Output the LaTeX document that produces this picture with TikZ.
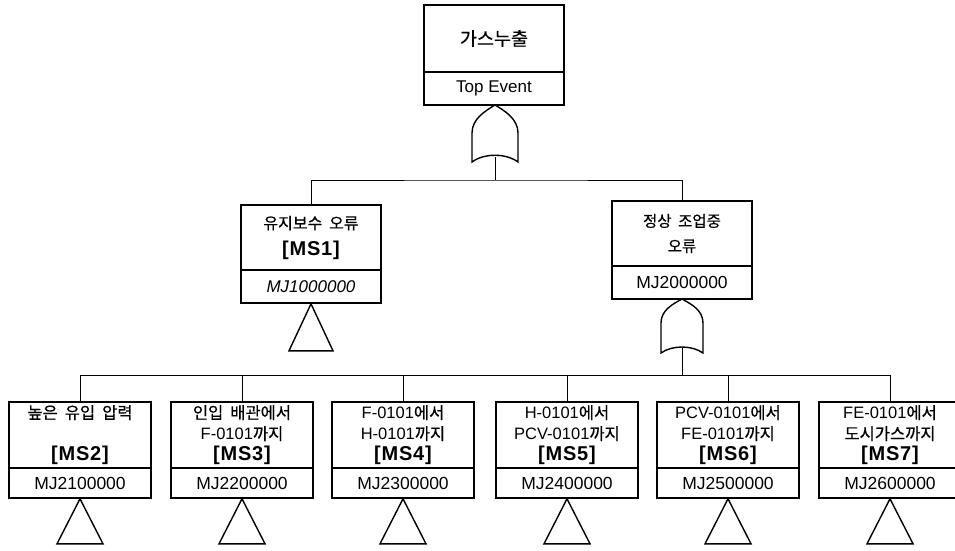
\documentclass[tikz,border=0pt]{standalone}
\usepackage{fontspec}
\setmainfont{Liberation Sans}
\newfontfamily\kr[WordSpace=1.9,FakeBold=0.5]{Noto Sans CJK KR}
\newcommand\krt[1]{{\kr #1}}
\newcommand\msl[1]{{\bfseries\fontsize{20}{21}\selectfont\addfontfeature{LetterSpace=4}#1}}
\tikzset{
  upbox/.style={draw, line width=1.6pt, minimum width=140pt, align=center, inner sep=0pt},
  lowbox/.style={draw, line width=1.6pt, minimum width=140pt, inner sep=0pt, font=\fontsize{17.5}{19}\selectfont},
  conn/.style={line width=0.9pt},
  gatesty/.style={line width=1.4pt, fill=white},
  tri/.style={line width=1.4pt},
}
\begin{document}
\begin{tikzpicture}[x=1pt,y=-1pt]
\useasboundingbox[fill=white] (0,0) rectangle (955,550);

% Top event
\node[upbox, minimum height=67pt, font=\fontsize{18.5}{20}\selectfont] (top) at (494,38.5) {\krt{가스누출}};
\node[lowbox, minimum height=33pt, font=\fontsize{17}{19}\selectfont] (topc) at (494,88.5) {Top Event};

% OR gate 1
\coordinate (g1) at (495,157);
\draw[gatesty] (472,162) -- (472,133) .. controls (472,119) and (485,111) .. (495,105)
  .. controls (505,111) and (518,119) .. (518,133) -- (518,162)
  .. controls (506,153) and (484,153) .. (472,162) -- cycle;

% Level 2
\node[upbox, minimum height=65pt, font=\fontsize{16}{26}\selectfont] (ms1) at (311,237.5) {\krt{유지보수 오류}\\ \msl{[MS1]}};
\node[lowbox, minimum height=33pt, font=\fontsize{17}{19}\selectfont] (ms1c) at (311,286.5) {\itshape MJ1000000};
\node[upbox, minimum height=65pt, font=\fontsize{15.5}{25}\selectfont] (mj2) at (682,233.5) {\krt{정상 조업중}\\ \krt{오류}};
\node[lowbox, minimum height=33pt] (mj2c) at (682,282.5) {MJ2000000};

\coordinate (h1) at (495,180);
\draw[conn] (g1) -- (h1);
\draw[conn] (ms1.north) |- (h1) -| (mj2.north);

% triangle MS1
\draw[tri] (ms1c.south) -- ++(22,47) -- ++(-44,0) -- cycle;

% OR gate 2
\coordinate (g2) at (682,348);
\draw[gatesty] (661,353) -- (661,323) .. controls (661,310) and (673,304) .. (682,299)
  .. controls (691,304) and (703,310) .. (703,323) -- (703,353)
  .. controls (692,345) and (672,345) .. (661,353) -- cycle;
\coordinate (h2) at (682,375);
\draw[conn] (g2) -- (h2);

% Level 3
\tikzset{bup/.style={upbox, minimum width=142pt, minimum height=66pt, font=\fontsize{16.5}{21}\selectfont},
         blow/.style={lowbox, minimum width=142pt, minimum height=30pt}}
\node[bup] (b1) at (80,435) {\krt{높은 유입 압력}\\[21pt] \msl{[MS2]}};
\node[blow] (b1c) at (80,483) {MJ2100000};
\node[bup] (b2) at (242,435) {\krt{인입 배관에서}\\ F-0101\krt{까지}\\ \msl{[MS3]}};
\node[blow] (b2c) at (242,483) {MJ2200000};
\node[bup] (b3) at (403,435) {F-0101\krt{에서}\\ H-0101\krt{까지}\\ \msl{[MS4]}};
\node[blow] (b3c) at (403,483) {MJ2300000};
\node[bup] (b4) at (567,435) {H-0101\krt{에서}\\ PCV-0101\krt{까지}\\ \msl{[MS5]}};
\node[blow] (b4c) at (567,483) {MJ2400000};
\node[bup] (b5) at (728,435) {PCV-0101\krt{에서}\\ FE-0101\krt{까지}\\ \msl{[MS6]}};
\node[blow] (b5c) at (728,483) {MJ2500000};
\node[bup] (b6) at (890,435) {FE-0101\krt{에서}\\ \krt{도시가스까지}\\ \msl{[MS7]}};
\node[blow] (b6c) at (890,483) {MJ2600000};

\draw[conn] (b1.north) |- (h2);
\draw[conn] (h2) -| (b6.north);
\foreach \n in {b2,b3,b4,b5} \draw[conn] (\n.north) -- (\n.north |- h2);

\foreach \n in {b1c,b2c,b3c,b4c,b5c,b6c}
  \draw[tri] (\n.south) -- ++(23,45) -- ++(-46,0) -- cycle;
\end{tikzpicture}
\end{document}
